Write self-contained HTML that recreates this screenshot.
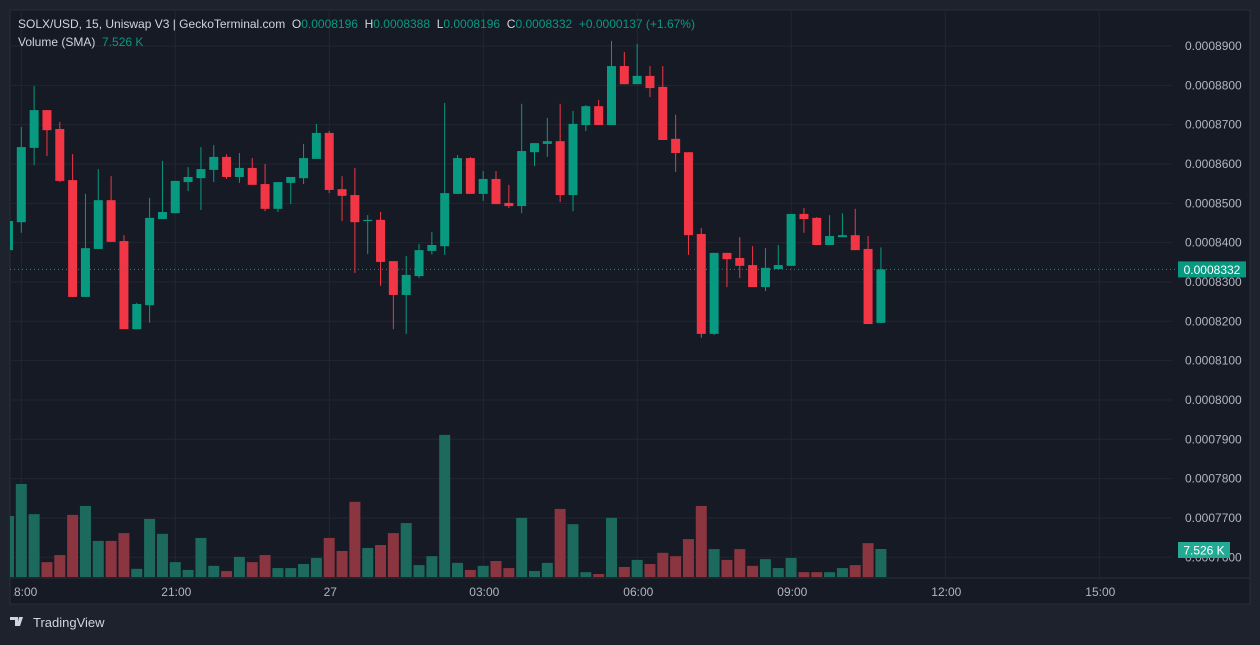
<!DOCTYPE html>
<html><head><meta charset="utf-8"><style>
html,body{margin:0;padding:0;background:#1e222d;width:1260px;height:640px;overflow:hidden;font-family:"Liberation Sans",sans-serif}
#wrap{position:absolute;left:0;top:0;width:1260px;height:640px}
.hdr{position:absolute;left:18px;font-size:12px;color:#d1d4dc;white-space:nowrap}
.g{color:#089981}
</style></head><body>
<div id="wrap">
<svg id="svg" width="1260" height="640"></svg>
<div class="hdr" style="top:17px">SOLX/USD, 15, Uniswap V3 | GeckoTerminal.com&nbsp; O<span class="g">0.0008196</span>&nbsp; H<span class="g">0.0008388</span>&nbsp; L<span class="g">0.0008196</span>&nbsp; C<span class="g">0.0008332</span>&nbsp; <span class="g">+0.0000137 (+1.67%)</span></div>
<div class="hdr" style="top:35px">Volume (SMA)&nbsp; <span class="g">7.526 K</span></div>
</div>
<script>
const opens=[8381,8452,8641,8737,8689,8559,8262,8384,8508,8404,8180,8241,8460,8475,8554,8564,8585,8618,8567,8590,8549,8486,8552,8564,8613,8679,8536,8521,8455,8458,8353,8267,8315,8379,8391,8524,8615,8524,8562,8501,8493,8630,8651,8658,8521,8699,8747,8699,8849,8803,8824,8796,8664,8630,8422,8168,8374,8361,8343,8287,8333,8341,8473,8463,8394,8414,8419,8384,8196];
const highs=[8455,8694,8798,8737,8707,8625,8524,8587,8569,8419,8247,8514,8608,8557,8592,8643,8648,8625,8628,8615,8600,8554,8567,8651,8702,8684,8569,8590,8470,8478,8353,8366,8397,8427,8755,8623,8618,8582,8582,8547,8753,8653,8717,8753,8735,8750,8763,8913,8885,8905,8849,8849,8725,8630,8437,8374,8374,8414,8391,8386,8394,8473,8488,8465,8470,8475,8486,8417,8388];
const lows=[8381,8425,8597,8620,8554,8262,8262,8384,8402,8180,8180,8196,8460,8475,8531,8483,8554,8562,8552,8547,8480,8478,8498,8549,8613,8526,8455,8323,8371,8290,8180,8168,8310,8370,8369,8524,8524,8506,8498,8488,8475,8595,8618,8503,8480,8684,8699,8699,8803,8803,8770,8661,8580,8369,8158,8165,8287,8310,8287,8277,8333,8341,8425,8394,8394,8414,8381,8193,8196];
const closes=[8455,8643,8737,8686,8557,8262,8386,8508,8402,8180,8244,8463,8478,8557,8567,8587,8618,8567,8590,8547,8486,8554,8567,8615,8679,8534,8519,8452,8458,8351,8267,8318,8381,8394,8526,8615,8524,8562,8498,8493,8633,8653,8658,8521,8702,8747,8699,8849,8803,8824,8793,8661,8628,8419,8168,8374,8358,8341,8287,8336,8343,8473,8460,8394,8417,8419,8381,8193,8332];
const volumes=[16.4,25.0,16.9,4.0,5.9,16.7,19.1,9.7,9.7,11.8,2.2,15.6,11.6,4.0,1.9,10.5,3.0,1.6,5.4,4.0,5.9,2.4,2.4,3.5,5.1,10.5,7.0,20.2,7.8,8.6,11.8,14.5,3.2,5.6,38.2,3.8,1.9,3.0,4.3,2.4,15.9,1.6,3.8,18.3,14.2,1.3,0.8,15.9,2.7,4.6,3.5,6.5,5.6,10.2,19.1,7.5,4.6,7.5,3.0,4.8,2.4,5.1,1.3,1.3,1.3,2.4,3.2,9.1,7.526];
const priceTicks=[8900,8800,8700,8600,8500,8400,8300,8200,8100,8000,7900,7800,7700,7600];
const timeLabels=["18:00","21:00","27","03:00","06:00","09:00","12:00","15:00"];
const firstIndex=-1;

const NS="http://www.w3.org/2000/svg";
const svg=document.getElementById('svg');
const PL=10,PR=1250,PT=10,PB=578;
const xOf=i=>21.3+12.83*(i+firstIndex);
const yOf=p=>46+(8900-p)*0.3933;
const vY=v=>577-v*3.72;
function mk(tag,attrs,parent){const e=document.createElementNS(NS,tag);for(const k in attrs)e.setAttribute(k,attrs[k]);(parent||svg).appendChild(e);return e;}
const bg=mk('rect',{x:PL,y:PT,width:PR-PL,height:604-PT,fill:'#161a25',stroke:'#2a2e39','stroke-width':1});


const clip=mk('clipPath',{id:'pc'});mk('rect',{x:PL,y:PT,width:1172-PL,height:PB-PT},clip);
const clip2=mk('clipPath',{id:'tc'});mk('rect',{x:13,y:PB,width:1160,height:26},clip2);
const tg=mk('g',{'clip-path':'url(#tc)'});
priceTicks.forEach(p=>{const y=yOf(p);
 const l=mk('line',{x1:PL,x2:1172,y1:y,y2:y,stroke:'#232631','stroke-width':1});
 
 
 const t=mk('text',{x:1185,y:y+4,fill:'#b2b5be','font-size':12,'font-family':'Liberation Sans, sans-serif'});
 t.textContent='0.000'+p.toString();
 
 
});
timeLabels.forEach((s,k)=>{const x=21.3+154*k;
 const l=mk('line',{x1:x,x2:x,y1:PT,y2:PB,stroke:'#232631','stroke-width':1});
 
 
 const t=mk('text',{x:x+1,y:596,fill:'#b2b5be','font-size':12,'text-anchor':'middle','font-family':'Liberation Sans, sans-serif'},tg);
 t.textContent=s;
 
 
});
mk('line',{x1:PL,x2:PR,y1:PB,y2:PB,stroke:'#2a2e39'});
const g=mk('g',{'clip-path':'url(#pc)'});
volumes.forEach((v,i)=>{const x=xOf(i);const up=closes[i]>=opens[i];
 const r=mk('rect',{x:x-5.5,y:vY(v),width:11,height:577-vY(v),fill:up?'#1c6a5e':'#8a3540'},g);
 
 
});
opens.forEach((o,i)=>{const x=xOf(i),c=closes[i];const up=c>=o;const col=up?'#089981':'#f23645';
 const w=mk('line',{x1:x,x2:x,y1:yOf(highs[i]),y2:yOf(lows[i]),stroke:col,'stroke-width':1},g);
 
 
 const top=yOf(Math.max(o,c)),bot=yOf(Math.min(o,c));
 const b=mk('rect',{x:x-4.5,y:top,width:9,height:Math.max(1,bot-top),fill:col},g);
 
 
});
const lp=closes[closes.length-1];const ly=yOf(lp);
const pl=mk('line',{x1:PL,x2:1178,y1:ly,y2:ly,stroke:'#089981','stroke-width':1,'stroke-dasharray':'1,3'});


const pb=mk('rect',{x:1178,y:ly-8,width:68,height:16,fill:'#089981'});


const pt=mk('text',{x:1212,y:ly+4.5,fill:'#fff','font-size':12,'text-anchor':'middle','font-family':'Liberation Sans, sans-serif'});
pt.textContent='0.000'+lp;
const vv=volumes[volumes.length-1];
const vb=mk('rect',{x:1178,y:vY(vv)-7,width:52,height:16,fill:'#22ab94'});


const vt=mk('text',{x:1204,y:vY(vv)+5.5,fill:'#fff','font-size':12,'text-anchor':'middle','font-family':'Liberation Sans, sans-serif'});
vt.textContent=vv.toFixed(3)+' K';
const lg=mk('g',{});


mk('path',{d:'M10 617h8v9h-3v-6h-5z M19 617h4l-3 9h-3z',fill:'#d1d4dc'},lg);
mk('circle',{cx:20.5,cy:619,r:1.5,fill:'#d1d4dc'},lg);
const lt=mk('text',{x:33,y:627,fill:'#d1d4dc','font-size':13,'font-family':'Liberation Sans, sans-serif'},lg);
lt.textContent='TradingView';
</script>
</body></html>
